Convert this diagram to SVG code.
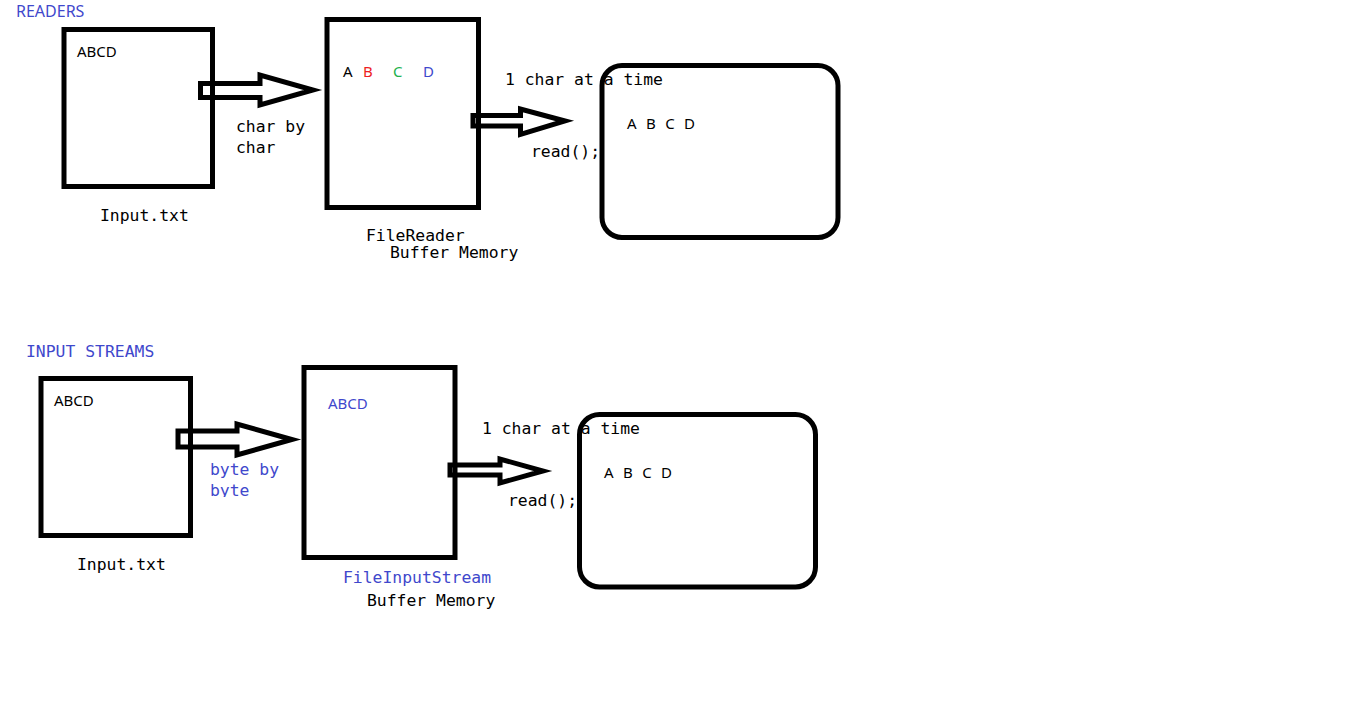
<svg xmlns="http://www.w3.org/2000/svg" width="1355" height="716" viewBox="0 0 1355 716">
  <defs>
    <style>
      .box { fill: none; stroke: #000; stroke-width: 5; }
      .arrow { fill: none; stroke: #000; stroke-width: 5; stroke-linejoin: miter; }
      .sans { font-family: "Noto Sans", "Open Sans", "DejaVu Sans", sans-serif; font-size: 15px; fill: #000; }
      .mono { font-family: "DejaVu Sans Mono", "Liberation Mono", monospace; font-size: 16.4px; fill: #000; }
      .indigo { fill: #3F48CC; }
      .red { fill: #ED1C24; }
      .green { fill: #22B14C; }
    </style>
    <clipPath id="clipByte">
      <rect x="200" y="455" width="100" height="42"/>
    </clipPath>
  </defs>

  <rect width="1355" height="716" fill="#fff"/>

  <!-- Readers section -->
  <text class="sans indigo" x="16" y="17" style="font-size:16px">READERS</text>

  <g id="reader-input">
    <rect class="box" x="64" y="29.5" width="148.5" height="157"/>
    <text class="sans" x="77" y="57">ABCD</text>
    <text class="mono" x="100" y="221">Input.txt</text>
  </g>

  <g id="reader-buffer">
    <rect class="box" x="327" y="19.5" width="151.5" height="188"/>
    <text class="sans" x="343" y="77">A</text>
    <text class="sans red" x="363" y="77">B</text>
    <text class="sans green" x="393" y="77">C</text>
    <text class="sans indigo" x="423" y="77">D</text>
    <text class="mono" x="366" y="241">FileReader</text>
    <text class="mono" x="390" y="258">Buffer Memory</text>
  </g>

  <g id="reader-output">
    <text class="mono" x="505" y="85">1 char at a time</text>
    <rect class="box" x="602" y="65.5" width="236" height="172" rx="20" ry="20"/>
    <text class="sans" x="627" y="129" style="word-spacing:5.5px">A B C D</text>
  </g>

  <!-- Input streams section -->
  <text class="mono indigo" x="26" y="357">INPUT STREAMS</text>

  <g id="stream-input">
    <rect class="box" x="41" y="378.5" width="149.5" height="157"/>
    <text class="sans" x="54" y="406">ABCD</text>
    <text class="mono" x="77" y="570">Input.txt</text>
  </g>

  <g id="stream-buffer">
    <rect class="box" x="304" y="367.5" width="151" height="190"/>
    <text class="sans indigo" x="328" y="409">ABCD</text>
    <text class="mono indigo" x="343" y="583">FileInputStream</text>
    <text class="mono" x="367" y="606">Buffer Memory</text>
  </g>

  <g id="stream-output">
    <text class="mono" x="482" y="434">1 char at a time</text>
    <rect class="box" x="579.5" y="414.5" width="236" height="172.5" rx="20" ry="20"/>
    <text class="sans" x="604" y="478" style="word-spacing:5.5px">A B C D</text>
  </g>

  <!-- Connectors -->
  <g id="connectors">
    <polygon class="arrow" points="200.5,83.5 260,83.5 260,75 313,90 260,105 260,97.5 200.5,97.5"/>
    <text class="mono" x="236" y="132">char by</text>
    <text class="mono" x="236" y="153">char</text>

    <polygon class="arrow" points="473,115.5 520.5,115.5 520.5,109 565,121 520.5,134.5 520.5,126 473,126"/>
    <text class="mono" x="531" y="157">read();</text>

    <polygon class="arrow" points="178,431 237,431 237,424 292,439.5 237,455 237,447 178,447"/>
    <text class="mono indigo" x="210" y="475">byte by</text>
    <text class="mono indigo" x="210" y="496" clip-path="url(#clipByte)">byte</text>

    <polygon class="arrow" points="450,465 500,465 500,459 543,471 500,483 500,475 450,475"/>
    <text class="mono" x="508" y="506">read();</text>
  </g>
</svg>
